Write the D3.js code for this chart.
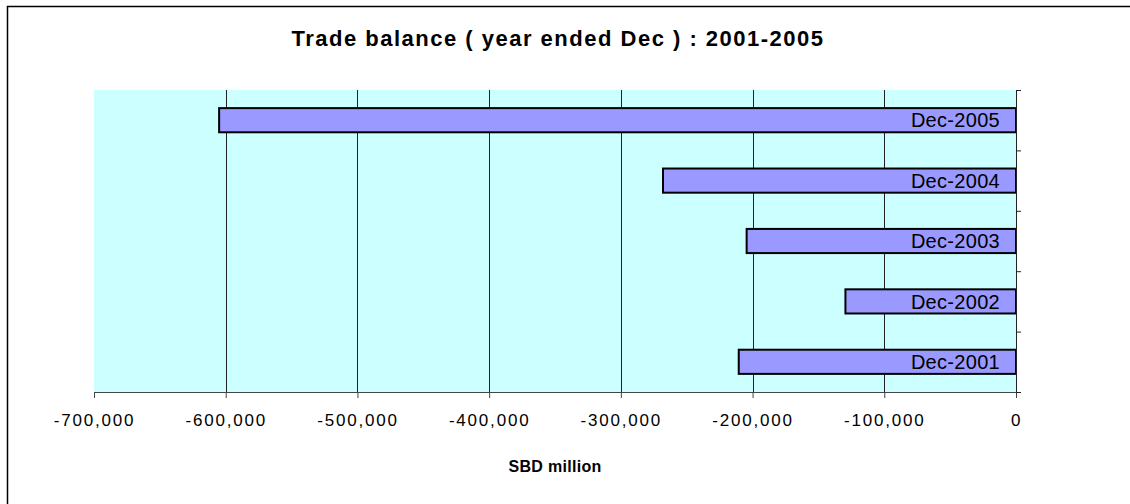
<!DOCTYPE html>
<html>
<head>
<meta charset="utf-8">
<script src="https://cdn.jsdelivr.net/npm/d3@7"></script>
<style>
  body { margin: 0; background: #fff; }
  svg { display: block; font-family: "Liberation Sans", Arial, sans-serif; }
</style>
</head>
<body>
<script>
// Data
const categories = ["Dec-2005", "Dec-2004", "Dec-2003", "Dec-2002", "Dec-2001"];
const balances = [-605000, -268000, -204500, -129500, -210500];
const xTicks = [-700000, -600000, -500000, -400000, -300000, -200000, -100000, 0];

const W = 1130, H = 504;
const plot = { left: 94, right: 1016, top: 90, bottom: 392 };

const svg = d3.select("body").append("svg")
    .attr("width", W)
    .attr("height", H);

// outer frame (top + left edges visible)
svg.append("path")
    .attr("d", `M7.5,${H} V6.5 H${W}`)
    .attr("fill", "none")
    .attr("stroke", "#000")
    .attr("stroke-width", 1.5);

svg.append("text")
    .attr("x", 558)
    .attr("y", 46)
    .attr("text-anchor", "middle")
    .style("font-size", "22px")
    .style("letter-spacing", "1.5px")
    .style("font-weight", "bold")
    .text("Trade balance ( year ended Dec ) : 2001-2005");

// scales
const x = d3.scaleLinear()
    .domain([-700000, 0])
    .range([plot.left, plot.right]);

const y = d3.scaleBand()
    .domain(categories)
    .range([plot.top, plot.bottom])
    .paddingInner(0.6)
    .paddingOuter(0.3);

const yEdge = d3.scaleLinear()
    .domain([0, categories.length])
    .range([plot.top, plot.bottom]);

// plot background
svg.append("rect")
    .attr("x", plot.left)
    .attr("y", plot.top)
    .attr("width", plot.right - plot.left)
    .attr("height", plot.bottom - plot.top)
    .attr("fill", "#ccffff");

// gridlines
svg.append("g")
    .selectAll("line")
    .data(xTicks.slice(1, -1))
    .enter()
    .append("line")
    .attr("x1", d => Math.round(x(d)) + 0.5)
    .attr("x2", d => Math.round(x(d)) + 0.5)
    .attr("y1", plot.top)
    .attr("y2", plot.bottom)
    .attr("stroke", "#222")
    .attr("stroke-width", 1);

// bars
svg.append("g")
    .selectAll("rect")
    .data(categories.map((c, i) => ({ cat: c, val: balances[i] })))
    .enter()
    .append("rect")
    .attr("x", d => x(d.val))
    .attr("y", d => y(d.cat))
    .attr("width", d => x(0) - x(d.val))
    .attr("height", y.bandwidth())
    .attr("fill", "#9999ff")
    .attr("stroke", "#000")
    .attr("stroke-width", 2);

// bottom axis (plain hyphen for the minus sign)
const fmt = d3.format(",");
const xAxis = svg.append("g")
    .attr("transform", `translate(0,${plot.bottom})`)
    .call(d3.axisBottom(x)
        .tickValues(xTicks)
        .tickSize(6)
        .tickPadding(16)
        .tickFormat(d => fmt(d).replace("\u2212", "-")));
xAxis.select(".domain").attr("stroke", "#444");
xAxis.selectAll(".tick line").attr("stroke", "#444");
xAxis.selectAll("text")
    .attr("fill", "#000")
    .style("font-size", "17px")
    .style("letter-spacing", "1.8px")
    .style("font-family", "'Liberation Sans', Arial, sans-serif");

// right (category) axis at zero, ticks at band edges
const yAxis = svg.append("g")
    .attr("transform", `translate(${plot.right},0)`)
    .call(d3.axisRight(yEdge)
        .tickValues(d3.range(categories.length + 1))
        .tickSize(5)
        .tickFormat(""));
yAxis.select(".domain").attr("stroke", "#222");
yAxis.selectAll(".tick line").attr("stroke", "#222");

// category labels inside the bars
svg.append("g")
    .selectAll("text")
    .data(categories)
    .enter()
    .append("text")
    .attr("x", x(0) - 16)
    .attr("y", d => y(d) + y.bandwidth() / 2)
    .attr("dy", "0.36em")
    .attr("text-anchor", "end")
    .style("font-size", "20px")
    .style("letter-spacing", "0.3px")
    .text(d => d);

svg.append("text")
    .attr("x", 555)
    .attr("y", 472)
    .attr("text-anchor", "middle")
    .style("font-size", "16px")
    .style("letter-spacing", "0.3px")
    .style("font-weight", "bold")
    .text("SBD million");
</script>
</body>
</html>
